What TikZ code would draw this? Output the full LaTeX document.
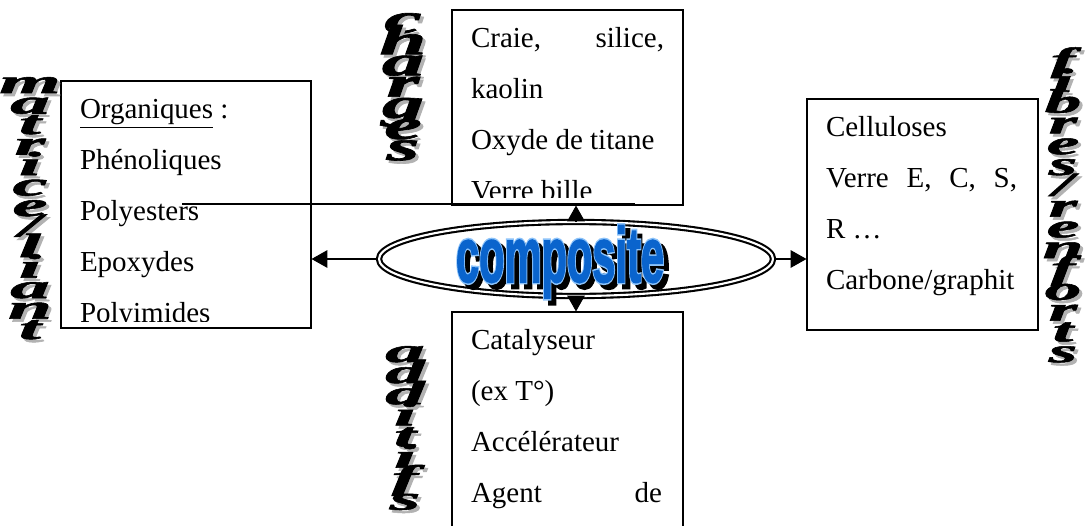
\documentclass[tikz,border=0pt]{standalone}
\usepackage{fontspec}
\setmainfont{Liberation Serif}
\newfontfamily\compfont{Liberation Sans Bold}[FakeBold=2]
\newfontfamily\comphalo{Liberation Sans Bold}[FakeBold=6]
\newfontfamily\wordfont{Liberation Serif Bold Italic}[FakeBold=1.5]
\usetikzlibrary{calc,shapes.geometric,arrows.meta}
\definecolor{compblue}{RGB}{10,100,205}
\definecolor{complight}{RGB}{140,195,250}
\newcommand{\stackword}[4][]{
    \foreach \ch [count=\idx] in {#4}
    {
        \node[wordshadow,#1] at ($(#2)+(0.06,{-0.06-#3*(\idx-1)})$) {\ch};
        \node[wordart,#1] at ($(#2)+(0,{-#3*(\idx-1)})$) {\ch};
    }
}
\newcommand{\boxlines}[2]{
    \foreach \txt [count=\idx] in {#2}
    {
        \node[itemtext] at ($(#1.north west)+(0.38,{-0.77-1.02*(\idx-1)})$) {\txt};
    }
}

\begin{document}
\begin{tikzpicture}[>={Triangle[length=9pt,width=10pt]},line width=0.6pt]

\clip (0,0) rectangle (21.8,10.5);
\fill[white] (0,0) rectangle (21.8,10.5);

\tikzstyle{itembox}=[draw,inner sep=0pt]
\tikzstyle{itemtext}=[anchor=base west,inner sep=0pt,font=\fontsize{16.5}{20}\selectfont]
\tikzstyle{wordart}=[anchor=base,inner sep=0pt,font=\wordfont\fontsize{16}{16}\selectfont]
\tikzstyle{wordshadow}=[wordart,text=gray!60]
\tikzstyle{comptext}=[anchor=base,inner sep=0pt,font=\compfont\fontsize{37}{37}\selectfont,xscale=0.64,yscale=1.2]

% the four boxes
\node (matrice) at (3.72,6.41) [itembox,minimum width=5cm,minimum height=4.94cm] {};
\node (charges) at (11.35,8.35) [itembox,minimum width=4.62cm,minimum height=3.9cm] {};
\node (fibres) at (18.45,6.21) [itembox,minimum width=4.62cm,minimum height=4.62cm] {};
\node (additifs) at (11.35,1.88) [itembox,minimum width=4.62cm,minimum height=4.76cm] {};

% box texts, cut at the bottom of each box
\begin{scope}
\clip ($(matrice.south west)+(0,0.14)$) rectangle (matrice.north east);
\boxlines{matrice}{{\underline{Organiques} :},Phénoliques,Polyesters,Epoxydes,Polyimides}
\end{scope}
\begin{scope}
\clip ($(charges.south west)+(0,0.16)$) rectangle (charges.north east);
\boxlines{charges}{{\makebox[3.86cm][s]{Craie, silice,}},kaolin,Oxyde de titane,Verre bille}
\end{scope}
\begin{scope}
\clip ($(fibres.south west)+(0,0.14)$) rectangle (fibres.north east);
\boxlines{fibres}{Celluloses,{\makebox[3.82cm][s]{Verre E, C, S,}},R …,Carbone/graphit}
\end{scope}
\begin{scope}
\clip ($(additifs.south west)+(0,0.14)$) rectangle (additifs.north east);
\boxlines{additifs}{Catalyseur,{(ex T°)},Accélérateur,{\makebox[3.82cm][s]{Agent de}}}
\end{scope}

\coordinate (lineStart) at (3.64,6.42);
\coordinate (lineEnd) at (12.7,6.42);
\draw (lineStart) -- (lineEnd);

% centre
\node (comp) at (11.52,5.32) [ellipse,draw,fill=white,line width=1.2pt,double=white,double distance=1.2pt,minimum width=7.88cm,minimum height=1.48cm] {};
\coordinate (compText) at (11.2,4.86);
\node[comptext,font=\comphalo\fontsize{37}{37}\selectfont,text=black] at ($(compText)+(0.1,-0.1)$) {composite};
\node[comptext,font=\comphalo\fontsize{37}{37}\selectfont,text=complight] at (compText) {composite};
\node[comptext,text=compblue] at (compText) {composite};

% arrows
\draw[->] (comp.west) -- (comp.west -| matrice.east);
\draw[->] (comp.east) -- (comp.east -| fibres.west);
\draw[->] (comp.north) -- (comp.north |- charges.south);
\draw[->] (comp.south) -- (comp.south |- additifs.north);

% vertical titles
\coordinate (matriceTop) at (0.6,8.64);
\stackword[xscale=2.8,yscale=1.2]{matriceTop}{0.41}{m,a,t,r,i,c,e,/,l,i,a,n,t}
\coordinate (chargesTop) at (8.06,9.84);
\stackword[xscale=3,yscale=1.5]{chargesTop}{0.424}{c,h,a,r,g,e,s}
\coordinate (fibresTop) at (21.26,9.08);
\stackword[xscale=2.6,yscale=1.2]{fibresTop}{0.416}{f,i,b,r,e,s,/,r,e,n,f,o,r,t,s}
\coordinate (additifsTop) at (8.1,3.26);
\stackword[xscale=2.8,yscale=1.2]{additifsTop}{0.422}{a,d,d,i,t,i,f,s}
\end{tikzpicture}
\end{document}
